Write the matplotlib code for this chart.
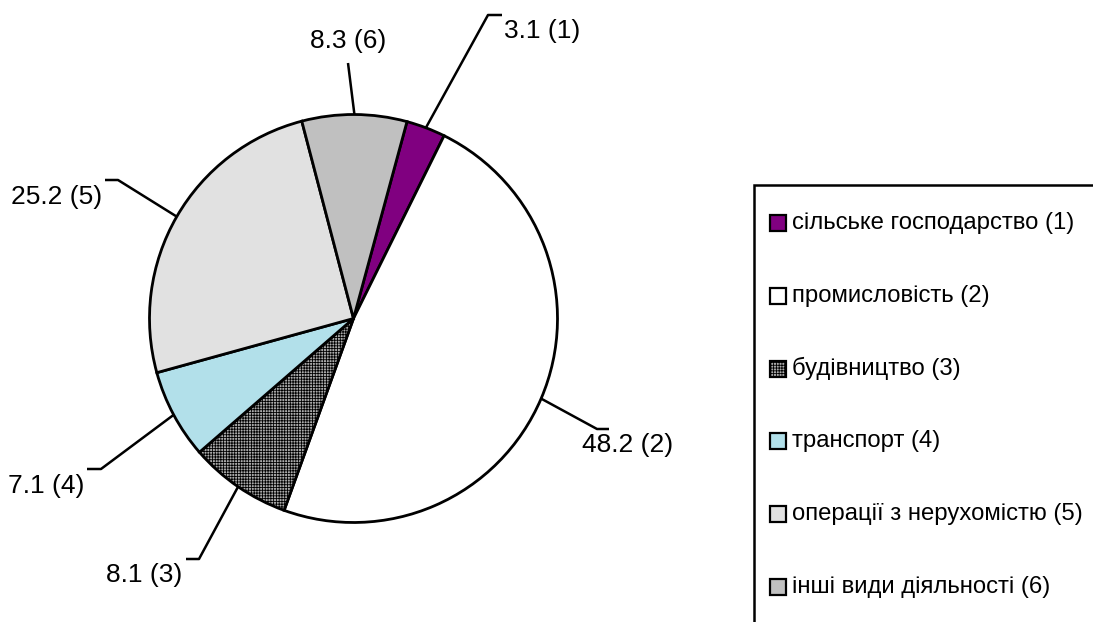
import numpy as np
import matplotlib
matplotlib.use("Agg")
import matplotlib.pyplot as plt
from matplotlib.patches import Rectangle

plt.rcParams['font.family'] = ['Liberation Sans', 'DejaVu Sans']
plt.rcParams['hatch.linewidth'] = 0.6

# structure of the economy, %
shares = [3.1, 48.2, 8.1, 7.1, 25.2, 8.3]
sectors = ['сільське господарство (1)', 'промисловість (2)', 'будівництво (3)',
           'транспорт (4)', 'операції з нерухомістю (5)', 'інші види діяльності (6)']
colors = ['#800080', '#ffffff', '#ababab', '#b2e0ea', '#e1e1e1', '#c0c0c0']
hatches = [None, None, '++++++', None, None, None]

W, H = 1093, 622
fig = plt.figure(figsize=(W / 100, H / 100), dpi=100)
ax = fig.add_axes([0, 0, 1, 1])

cx, cy, r = 353.5, H - 318.5, 204
start = 90 - 15.2
wedges, _ = ax.pie(shares, center=(cx, cy), radius=r, startangle=start,
                   counterclock=False, colors=colors,
                   wedgeprops=dict(edgecolor='black', linewidth=2.0))
for w, h in zip(wedges, hatches):
    if h:
        w.set_hatch(h)

# leader lines: elbow point, end of short tick, text anchor (pixels from top)
leaders = [
    ((488, 15), (502, 15), (504, 31), 'left'),
    ((597, 429), (609, 429), (582, 445), 'left'),
    ((199, 559), (186, 559), (144, 575), 'center'),
    ((101, 469), (87, 469), (46, 486), 'center'),
    ((118, 180), (105, 180), (57, 197), 'center'),
    ((348, 63), (348, 63), (348, 41), 'center'),
]
cum = np.cumsum([0] + shares[:-1])
for i, v in enumerate(shares):
    mid = np.radians(start - (cum[i] + v / 2) / 100 * 360)
    x0, y0 = cx + r * np.cos(mid), cy + r * np.sin(mid)
    (ex, ey), (tx, ty), (lx, ly), ha = leaders[i]
    ax.plot([x0, ex, tx], [y0, H - ey, H - ty], color='black', lw=1.8,
            solid_capstyle='butt', zorder=0.5)
    ax.text(lx, H - ly, f'{v} ({i + 1})', ha=ha, va='center', fontsize=19)

# legend box, runs off the right and bottom edges
ax.add_patch(Rectangle((754, -20), 400, H - 185 + 20, facecolor='white',
                       edgecolor='black', lw=1.8, zorder=2))
for i, lab in enumerate(sectors):
    yy = H - (223 + i * 72.8)
    ax.add_patch(Rectangle((770, yy - 8), 16, 16, facecolor=colors[i],
                           edgecolor='black', lw=1.6, hatch=hatches[i], zorder=3))
    ax.text(792, yy, lab, ha='left', va='center', fontsize=17.2, zorder=3)

ax.set_xlim(0, W)
ax.set_ylim(0, H)
ax.set_aspect('auto')
ax.axis('off')

fig.savefig('out.png', dpi=100)
